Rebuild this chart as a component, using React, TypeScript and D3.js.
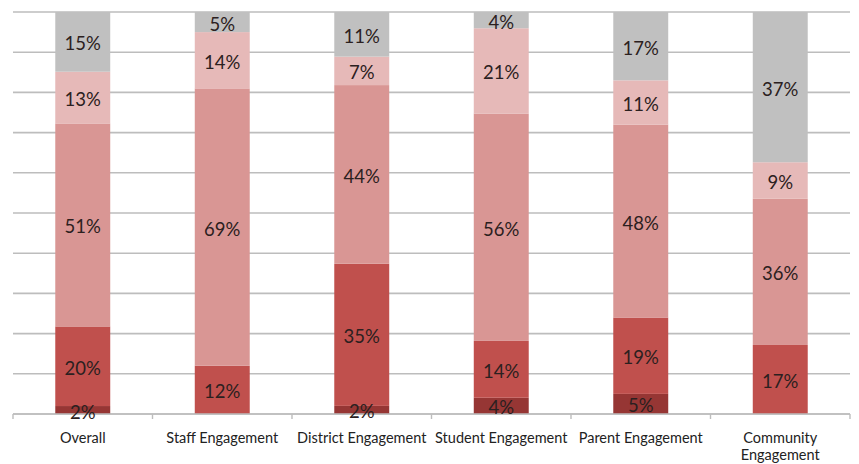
import React from "react";
import * as d3 from "d3";

const categories = [
  "Overall",
  "Staff Engagement",
  "District Engagement",
  "Student Engagement",
  "Parent Engagement",
  "Community Engagement",
];
const categoryLines = [
  ["Overall"],
  ["Staff Engagement"],
  ["District Engagement"],
  ["Student Engagement"],
  ["Parent Engagement"],
  ["Community", "Engagement"],
];
// series from bottom to top
const level1 = [2, 0, 2, 4, 5, 0];
const level2 = [20, 12, 35, 14, 19, 17];
const level3 = [51, 69, 44, 56, 48, 36];
const level4 = [13, 14, 7, 21, 11, 9];
const level5 = [15, 5, 11, 4, 17, 37];
const seriesValues = [level1, level2, level3, level4, level5];
const seriesColors = ["#963634", "#C0504D", "#D99694", "#E6B9B8", "#C0C0C0"];
const gridTicks = [0, 0.1, 0.2, 0.3, 0.4, 0.5, 0.6, 0.7, 0.8, 0.9, 1];

const W = 859;
const H = 464;
const left = 13;
const right = 850;
const top = 12;
const bottom = 414;

export default function App() {
  const x = d3
    .scaleBand<string>()
    .domain(categories)
    .range([left, right])
    .paddingInner(0.606)
    .paddingOuter(0.303);
  const y = d3.scaleLinear().domain([0, 1]).range([bottom, top]);
  const step = x.step();

  const rows = categories.map((c, i) => {
    const obj: any = { cat: c };
    const total = d3.sum(seriesValues, (s) => s[i]);
    seriesValues.forEach((s, k) => (obj["s" + k] = s[i] / total));
    return obj;
  });
  const keys = seriesValues.map((_, k) => "s" + k);
  const stacked = d3.stack<any>().keys(keys)(rows);

  const font = "Lato, 'Open Sans', sans-serif";

  return (
    <svg
      width={W}
      height={H}
      style={{ position: "absolute", left: 0, top: 0, background: "#fff" }}
    >
      <rect x={0} y={0} width={W} height={H} fill="#fff" />
      {gridTicks.map((t) => (
        <line
          key={t}
          x1={left}
          x2={right}
          y1={y(t)}
          y2={y(t)}
          stroke="#BDBDBD"
          strokeWidth={1.6}
        />
      ))}
      {stacked.map((layer, k) =>
        layer.map((d, i) => {
          const v = seriesValues[k][i];
          if (v === 0) return null;
          const x0 = x(categories[i])!;
          const y0 = y(d[1]);
          const h = y(d[0]) - y(d[1]);
          return (
            <rect
              key={k + "-" + i}
              x={x0}
              y={y0}
              width={x.bandwidth()}
              height={h}
              fill={seriesColors[k]}
            />
          );
        })
      )}
      <line x1={left} x2={right} y1={bottom} y2={bottom} stroke="#BDBDBD" strokeWidth={1.6} />
      {d3.range(categories.length + 1).map((i) => (
        <line
          key={"t" + i}
          x1={left + i * step}
          x2={left + i * step}
          y1={bottom}
          y2={bottom + 5}
          stroke="#BDBDBD"
          strokeWidth={1.4}
        />
      ))}
      {stacked.map((layer, k) =>
        layer.map((d, i) => {
          const v = seriesValues[k][i];
          if (v === 0) return null;
          const cx = x(categories[i])! + x.bandwidth() / 2;
          const cy = (y(d[0]) + y(d[1])) / 2 + 1.5;
          return (
            <text
              key={"l" + k + "-" + i}
              x={cx}
              y={cy}
              textAnchor="middle"
              dominantBaseline="central"
              fontFamily={font}
              fontSize={18.5}
              fill="#2b2020"
            >
              {v + "%"}
            </text>
          );
        })
      )}
      {categoryLines.map((lines, i) =>
        lines.map((ln, j) => (
          <text
            key={"c" + i + "-" + j}
            x={x(categories[i])! + x.bandwidth() / 2}
            y={437 + j * 17.5}
            textAnchor="middle"
            dominantBaseline="central"
            fontFamily={font}
            fontSize={14.5}
            fill="#222"
          >
            {ln}
          </text>
        ))
      )}
    </svg>
  );
}
